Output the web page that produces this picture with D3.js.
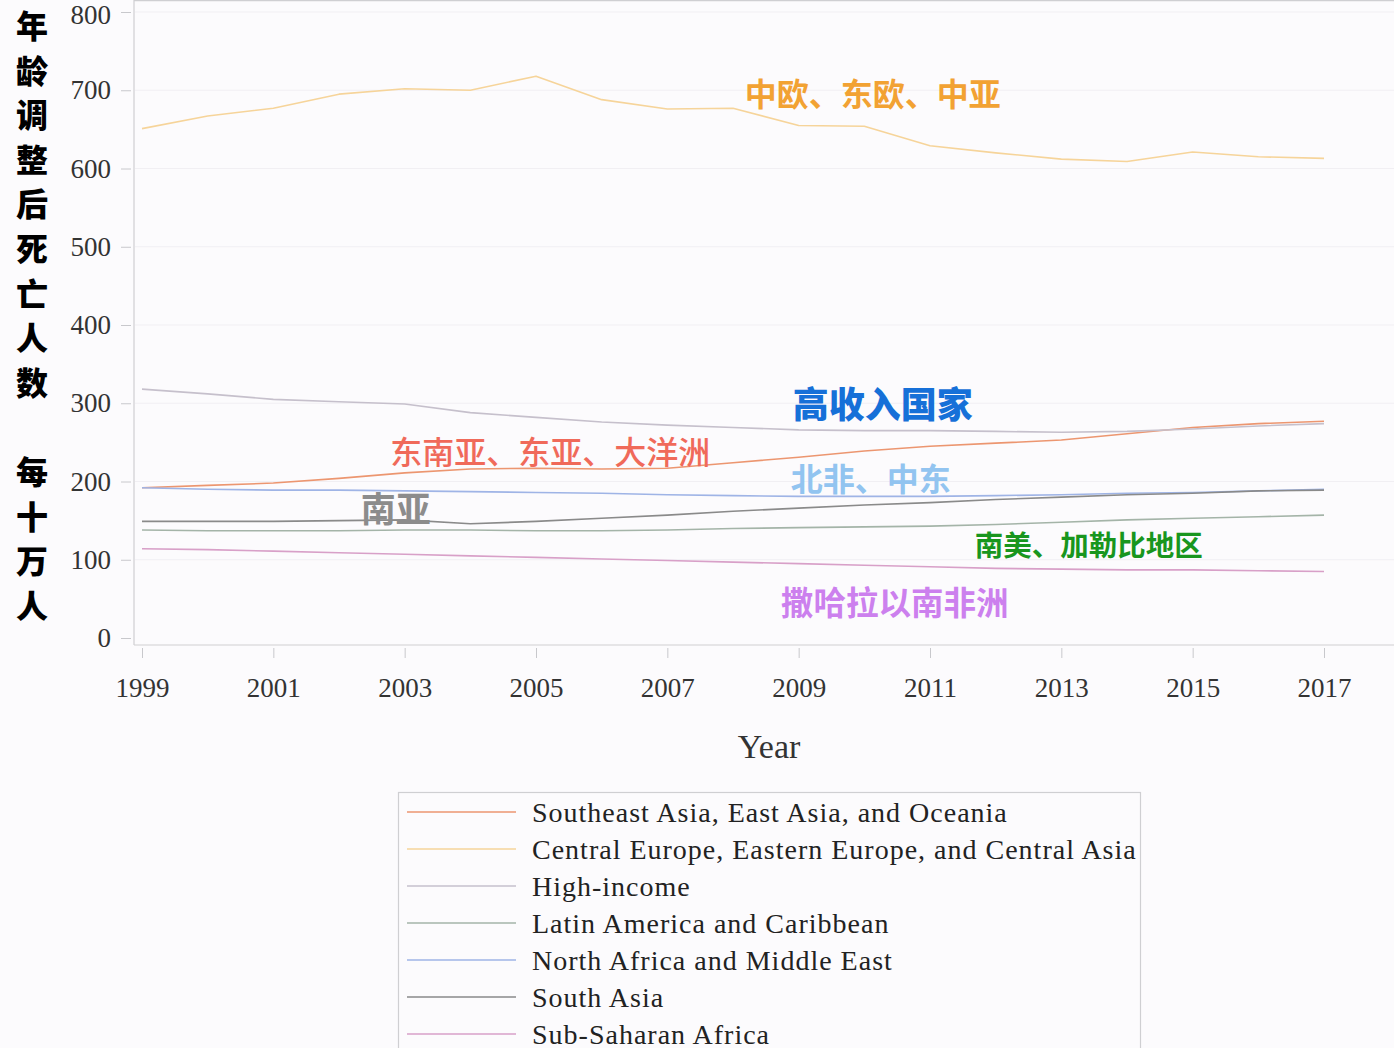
<!DOCTYPE html>
<html>
<head>
<meta charset="utf-8">
<script src="https://cdn.jsdelivr.net/npm/d3@7"></script>
<style>
  html, body { margin: 0; padding: 0; background: #fcfbfd; }
  svg { display: block; }
</style>
</head>
<body>
<div id="chart"></div>
<script>
// Years on the x axis
const years = [1999, 2000, 2001, 2002, 2003, 2004, 2005, 2006, 2007, 2008,
               2009, 2010, 2011, 2012, 2013, 2014, 2015, 2016, 2017];
const xTicks = [1999, 2001, 2003, 2005, 2007, 2009, 2011, 2013, 2015, 2017];
const yTicks = [0, 100, 200, 300, 400, 500, 600, 700, 800];

// Age-standardised deaths per 100,000
const seAsia        = [192, 195, 198, 204, 211, 216, 217, 216, 217, 224, 231, 239, 245, 249, 253, 261, 269, 274, 277];
const centralEurope = [651, 667, 677, 695, 702, 700, 718, 688, 676, 677, 655, 654, 629, 620, 612, 609, 621, 615, 613];
const highIncome    = [318, 312, 305, 302, 299, 288, 282, 276, 272, 269, 266, 265, 265, 264, 263, 264, 267, 271, 274];
const latinAmerica  = [138, 137, 137, 137, 138, 138, 137, 137, 138, 140, 141, 142, 143, 145, 148, 151, 153, 155, 157];
const northAfrica   = [192, 190, 189, 189, 188, 187, 186, 185, 183, 182, 181, 181, 181, 182, 183, 185, 186, 188, 190];
const southAsia     = [149, 149, 149, 150, 151, 146, 149, 153, 157, 162, 166, 170, 173, 177, 180, 183, 185, 188, 189];
const subSaharan    = [114, 113, 111, 109, 107, 105, 103, 101, 99, 97, 95, 93, 91, 89, 88, 87, 87, 86, 85];

const seriesNames = [
  "Southeast Asia, East Asia, and Oceania",
  "Central Europe, Eastern Europe, and Central Asia",
  "High-income",
  "Latin America and Caribbean",
  "North Africa and Middle East",
  "South Asia",
  "Sub-Saharan Africa"
];
const seriesValues = [seAsia, centralEurope, highIncome, latinAmerica, northAfrica, southAsia, subSaharan];
const seriesColors = ["#ec9670", "#f6d49a", "#c6c0cc", "#a4b4a8", "#9fb4e6", "#8a8a8a", "#d8a0c8"];

const W = 1394, H = 1048;
const serif = "'Liberation Serif', 'Times New Roman', serif";
const cjk = "'Noto Sans CJK SC', 'Noto Sans', sans-serif";

const svg = d3.select("#chart").append("svg")
    .attr("width", W)
    .attr("height", H);

svg.append("rect").attr("width", W).attr("height", H).attr("fill", "#fcfbfd");

const x = d3.scaleLinear().domain([1999, 2017]).range([142, 1324]);
const y = d3.scaleLinear().domain([0, 800]).range([638, 12]);

// faint gridlines
svg.append("g")
    .selectAll("line")
    .data(yTicks.filter(d => d > 0))
    .enter().append("line")
    .attr("x1", 135).attr("x2", W)
    .attr("y1", d => y(d)).attr("y2", d => y(d))
    .attr("stroke", "#f1eff3")
    .attr("stroke-width", 1);

// frame
svg.append("line").attr("x1", 134).attr("x2", 134).attr("y1", 0).attr("y2", 645)
    .attr("stroke", "#cfcfd2").attr("stroke-width", 1.2);
svg.append("line").attr("x1", 134).attr("x2", W).attr("y1", 0.6).attr("y2", 0.6)
    .attr("stroke", "#cfcfd2").attr("stroke-width", 1.2);
svg.append("line").attr("x1", 134).attr("x2", W).attr("y1", 645).attr("y2", 645)
    .attr("stroke", "#cfcfd2").attr("stroke-width", 1.2);

// Y axis
const yAxis = svg.append("g")
    .attr("transform", "translate(131,0)")
    .call(d3.axisLeft(y).tickValues(yTicks).tickSize(10).tickPadding(10));
yAxis.select(".domain").remove();
yAxis.selectAll("line").attr("stroke", "#c8c8cc");
yAxis.selectAll("text")
    .style("font-family", serif)
    .style("font-size", "27px")
    .attr("fill", "#333");
yAxis.selectAll(".tick").filter(d => d === 800).select("text").attr("dy", "0.42em");

// X axis
const xAxis = svg.append("g")
    .attr("transform", "translate(0,648)")
    .call(d3.axisBottom(x).tickValues(xTicks).tickFormat(d3.format("d")).tickSize(10).tickPadding(20));
xAxis.select(".domain").remove();
xAxis.selectAll("line").attr("stroke", "#c8c8cc");
xAxis.selectAll("text")
    .style("font-family", serif)
    .style("font-size", "27px")
    .attr("fill", "#333");

svg.append("text")
    .attr("x", 769).attr("y", 746)
    .attr("text-anchor", "middle")
    .attr("dominant-baseline", "central")
    .style("font-family", serif)
    .style("font-size", "34px")
    .attr("fill", "#333")
    .text("Year");

// vertical Chinese y title
const yTitle = "年龄调整后死亡人数　每十万人".split("");
svg.append("g")
    .selectAll("text")
    .data(yTitle)
    .enter().append("text")
    .attr("x", 32)
    .attr("y", (d, i) => 24 + i * 44.6)
    .attr("text-anchor", "middle")
    .attr("dominant-baseline", "central")
    .style("font-family", cjk)
    .style("font-weight", 900)
    .style("font-size", "32px")
    .attr("fill", "#000")
    .text(d => d);

// lines
const line = d3.line()
    .x((d, i) => x(years[i]))
    .y(d => y(d));

svg.append("g")
    .selectAll("path")
    .data(seriesValues)
    .enter().append("path")
    .attr("d", d => line(d))
    .attr("fill", "none")
    .attr("stroke", (d, i) => seriesColors[i])
    .attr("stroke-width", 1.6)
    .attr("stroke-linejoin", "round");

// Chinese annotations, anchored in data space
const notes = [
  { text: "中欧、东欧、中亚",     yr: 2008.18, v: 698, size: 32, color: "#f2a233", weight: 700 },
  { text: "高收入国家",           yr: 2008.91, v: 301, size: 36, color: "#1670d8", weight: 900 },
  { text: "东南亚、东亚、大洋洲", yr: 2002.78, v: 240, size: 32, color: "#f06a5a", weight: 500 },
  { text: "北非、中东",           yr: 2008.88, v: 206, size: 32, color: "#92c4f0", weight: 700 },
  { text: "南亚",                 yr: 2002.33, v: 168, size: 35, color: "#8c8c8c", weight: 700 },
  { text: "南美、加勒比地区",     yr: 2011.68, v: 121, size: 28.5, color: "#18961e", weight: 700 },
  { text: "撒哈拉以南非洲",       yr: 2008.73, v: 48,  size: 32.5, color: "#cc80ee", weight: 700 }
];
svg.append("g")
    .selectAll("text")
    .data(notes)
    .enter().append("text")
    .attr("x", d => x(d.yr))
    .attr("y", d => y(d.v))
    .attr("dominant-baseline", "central")
    .style("font-family", cjk)
    .style("font-size", d => d.size + "px")
    .style("font-weight", d => d.weight)
    .attr("fill", d => d.color)
    .text(d => d.text);

// legend
const legend = svg.append("g");
legend.append("rect")
    .attr("x", 398.5).attr("y", 792.5)
    .attr("width", 742).attr("height", 280)
    .attr("fill", "#fcfbfd")
    .attr("stroke", "#cfcfd2")
    .attr("stroke-width", 1.2);

const items = legend.selectAll("g.item")
    .data(seriesNames)
    .enter().append("g")
    .attr("class", "item")
    .attr("transform", (d, i) => `translate(0,${812 + i * 37})`);
items.append("line")
    .attr("x1", 407).attr("x2", 516)
    .attr("stroke", (d, i) => seriesColors[i])
    .attr("stroke-width", 1.6);
items.append("text")
    .attr("x", 532)
    .attr("dominant-baseline", "central")
    .style("font-family", serif)
    .style("font-size", "28px")
    .style("letter-spacing", "1px")
    .attr("fill", "#222")
    .text(d => d);
</script>
</body>
</html>
